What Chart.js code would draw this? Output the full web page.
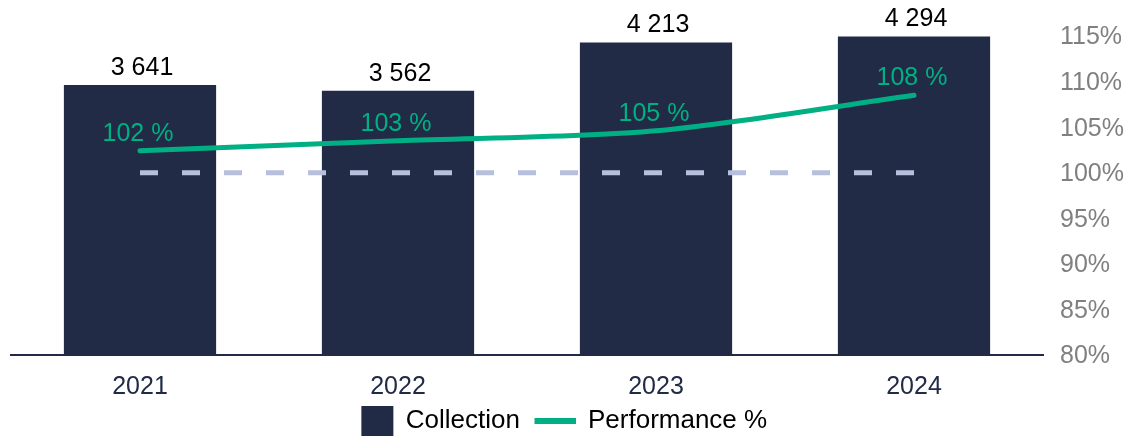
<!DOCTYPE html>
<html>
<head>
<meta charset="utf-8">
<script src="https://cdn.jsdelivr.net/npm/chart.js@4.4.0/dist/chart.umd.min.js"></script>
<style>
  html, body { margin: 0; padding: 0; background: #ffffff; }
  #wrap { width: 1132px; height: 438px; position: relative; }
</style>
</head>
<body>
<div id="wrap"><canvas id="c" width="1132" height="438"></canvas></div>
<script>
// ---- data ----
const years = ['2021', '2022', '2023', '2024'];
const collection = [3641, 3562, 4213, 4294];
const collectionLabels = ['3 641', '3 562', '4 213', '4 294'];
const performance = [102.4, 103.5, 104.6, 108.5];
const performanceLabels = ['102 %', '103 %', '105 %', '108 %'];
const target = [100, 100, 100, 100];
const pctTicks = [80, 85, 90, 95, 100, 105, 110, 115];

// ---- styles ----
const NAVY = '#212B45';
const GREEN = '#00B084';
const DASH = '#B6C0DC';
const FONT = "'Liberation Sans', Arial, sans-serif";

// legend symbols (image point styles; drawn centred in a 53px legend box)
function makeSquare() {
  const c = document.createElement('canvas');
  c.width = 56; c.height = 30;
  const x = c.getContext('2d');
  x.fillStyle = NAVY; x.fillRect(23, 0, 32, 30);
  return c;
}
function makeLine() {
  const c = document.createElement('canvas');
  c.width = 56; c.height = 6;
  const x = c.getContext('2d');
  x.fillStyle = GREEN; x.fillRect(14, 0, 42, 6);
  return c;
}
const squareImg = makeSquare();
const lineImg = makeLine();

const valueLabels = {
  id: 'valueLabels',
  afterDatasetsDraw(chart) {
    const ctx = chart.ctx;
    ctx.save();
    ctx.font = '25px ' + FONT;
    ctx.textAlign = 'center';
    ctx.textBaseline = 'alphabetic';
    const barMeta = chart.getDatasetMeta(0);
    ctx.fillStyle = '#000000';
    barMeta.data.forEach((el, i) => {
      ctx.fillText(collectionLabels[i], el.x + 2, el.y - 10);
    });
    const lineMeta = chart.getDatasetMeta(1);
    ctx.fillStyle = GREEN;
    lineMeta.data.forEach((el, i) => {
      ctx.fillText(performanceLabels[i], el.x - 2, el.y - 10);
    });
    ctx.restore();
  }
};

new Chart(document.getElementById('c'), {
  data: {
    labels: years,
    datasets: [
      {
        type: 'bar',
        label: 'Collection',
        data: collection,
        backgroundColor: NAVY,
        borderWidth: 0,
        yAxisID: 'y',
        order: 3,
        categoryPercentage: 1,
        barPercentage: 0.59
      },
      {
        type: 'line',
        label: 'Performance %',
        data: performance,
        borderColor: GREEN,
        backgroundColor: GREEN,
        borderWidth: 5,
        borderCapStyle: 'round',
        borderJoinStyle: 'round',
        pointRadius: 0,
        tension: 0.3,
        yAxisID: 'y1',
        order: 1
      },
      {
        type: 'line',
        label: 'Target',
        data: target,
        borderColor: DASH,
        borderWidth: 5,
        borderDash: [18, 24],
        pointRadius: 0,
        tension: 0,
        yAxisID: 'y1',
        order: 2
      }
    ]
  },
  options: {
    responsive: false,
    animation: false,
    devicePixelRatio: 1,
    layout: { padding: { left: -25, right: 0, top: 36, bottom: -6 } },
    plugins: {
      tooltip: { enabled: false },
      legend: {
        position: 'bottom',
        labels: {
          usePointStyle: true,
          pointStyleWidth: 53,
          padding: 2,
          color: '#000000',
          font: { family: FONT, size: 26 },
          generateLabels() {
            return [
              { text: 'Collection', pointStyle: squareImg, fillStyle: NAVY, strokeStyle: NAVY, lineWidth: 0, datasetIndex: 0, fontColor: '#000000' },
              { text: 'Performance %', pointStyle: lineImg, fillStyle: GREEN, strokeStyle: GREEN, lineWidth: 0, datasetIndex: 1, fontColor: '#000000' }
            ];
          }
        }
      }
    },
    scales: {
      x: {
        grid: { display: false, drawTicks: false },
        border: { display: true, color: NAVY, width: 2 },
        ticks: { color: NAVY, font: { family: FONT, size: 25 }, padding: 17 },
        afterFit(scale) { scale.height = 51; }
      },
      y: {
        display: true,
        min: 0,
        max: 4300,
        grid: { display: false, drawTicks: false },
        border: { display: false },
        ticks: { display: false },
        afterFit(scale) { scale.width = 36; }
      },
      y1: {
        position: 'right',
        min: 80,
        max: 115,
        grid: { display: false, drawTicks: false },
        border: { display: false },
        afterBuildTicks(scale) { scale.ticks = pctTicks.map(v => ({ value: v })); },
        afterFit(scale) { scale.width = 89; },
        ticks: {
          color: '#808080',
          font: { family: FONT, size: 25 },
          padding: 17,
          labelOffset: 1.5,
          callback: (v) => v + '%'
        }
      }
    }
  },
  plugins: [valueLabels]
});
</script>
</body>
</html>
